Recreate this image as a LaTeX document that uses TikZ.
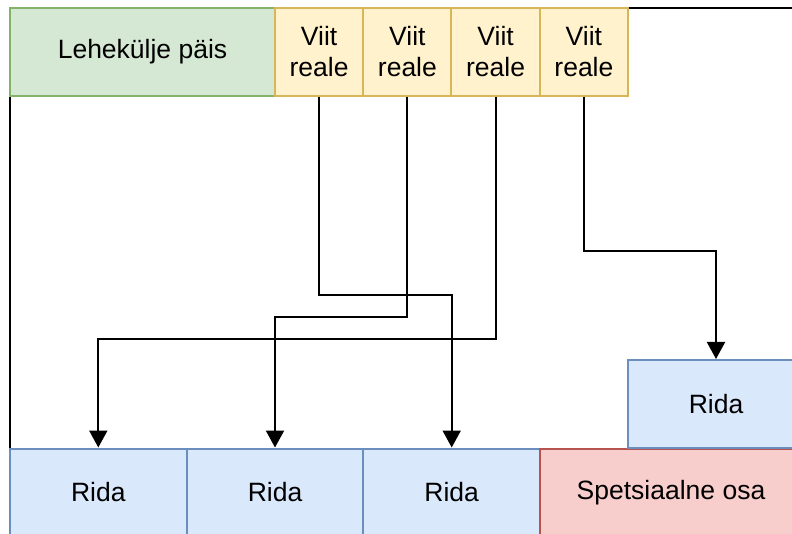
\documentclass[tikz,border=0pt]{standalone}
\usepackage{fontspec}
\setmainfont{Liberation Sans}
\usetikzlibrary{arrows.meta}
\definecolor{greenfill}{HTML}{D5E8D4}
\definecolor{greenline}{HTML}{82B366}
\definecolor{yellowfill}{HTML}{FFF2CC}
\definecolor{yellowline}{HTML}{D6B656}
\definecolor{bluefill}{HTML}{DAE8FC}
\definecolor{blueline}{HTML}{6C8EBF}
\definecolor{redfill}{HTML}{F8CECC}
\definecolor{redline}{HTML}{B85450}
\tikzset{
  box/.style={draw, line width=2pt, inner sep=0pt, align=center,
    font=\fontsize{26.5}{31}\selectfont, minimum height=88pt},
  header/.style={box, fill=greenfill, draw=greenline},
  jump/.style={box, fill=yellowfill, draw=yellowline, minimum width=88.25pt},
  rowbox/.style={box, fill=bluefill, draw=blueline},
  special/.style={box, fill=redfill, draw=redline},
  link/.style={draw=black, line width=2.1pt,
    -{Triangle[width=18pt,length=17pt]}},
}
\begin{document}
\begin{tikzpicture}[x=1pt, y=-1pt]
\useasboundingbox (0,0) rectangle (792,534);
% page frame
\draw[line width=2.1pt] (10,8) rectangle (820,560);
% header row
\node[header, minimum width=265pt] (head) at (142.5,52) {Lehekülje päis};
\node[jump] (j1) at (319.1,52) {Viit\\reale};
\node[jump] (j2) at (407.4,52) {Viit\\reale};
\node[jump] (j3) at (495.6,52) {Viit\\reale};
\node[jump] (j4) at (583.9,52) {Viit\\reale};
% bottom rows
\node[rowbox, minimum width=176.7pt] (r1) at (98.3,492.5) {Rida};
\node[rowbox, minimum width=176.7pt] (r2) at (275,492.5) {Rida};
\node[rowbox, minimum width=176.7pt] (r3) at (451.7,492.5) {Rida};
\node[special, minimum width=262pt] (sp) at (671,492.5) {Spetsiaalne osa};
\node[rowbox, minimum width=176pt] (r4) at (716,404) {Rida};
% links
\draw[link] (j1.south) -- ++(0,198) -| (r3.north);
\draw[link] (j2.south) -- ++(0,220) -| (r2.north);
\draw[link] (j3.south) -- ++(0,242) -| (r1.north);
\draw[link] (j4.south) -- ++(0,154) -| (r4.north);
\end{tikzpicture}
\end{document}
